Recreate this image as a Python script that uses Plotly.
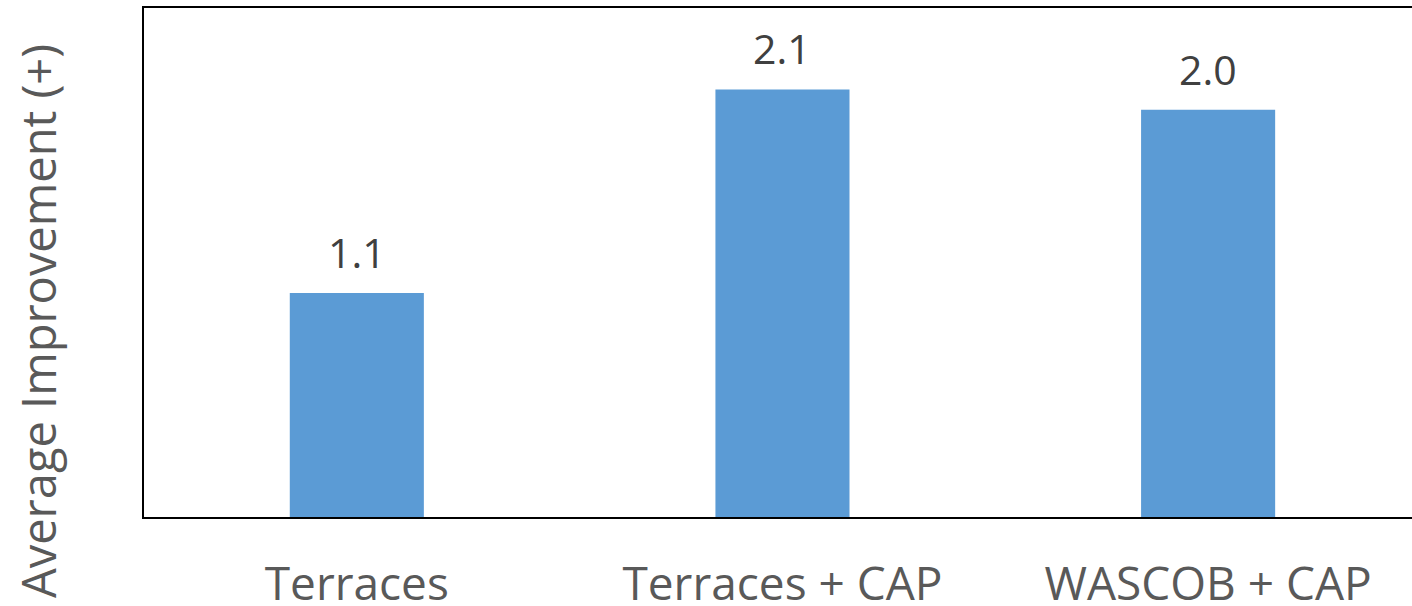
import plotly.graph_objects as go

# Average improvement per practice
categories = ["Terraces", "Terraces + CAP", "WASCOB + CAP"]
improvement = [1.1, 2.1, 2.0]
value_labels = ["1.1", "2.1", "2.0"]

bar_color = "#5B9BD5"
font_family = "'Open Sans', 'Noto Sans', sans-serif"

fig = go.Figure()
fig.add_trace(go.Bar(
    x=categories,
    y=improvement,
    width=0.315,
    marker=dict(color=bar_color, line=dict(width=0)),
    hoverinfo="x+y",
))

# value labels above each bar
for cat, val, lab in zip(categories, improvement, value_labels):
    fig.add_annotation(
        x=cat, y=val, xref="x", yref="y",
        text=lab, showarrow=False,
        yanchor="bottom", yshift=11,
        font=dict(family=font_family, size=41, color="#404040"),
    )

# rotated y-axis caption
fig.add_annotation(
    x=-0.0836, y=0.385, xref="paper", yref="paper",
    text="Average Improvement (+)", textangle=-90, showarrow=False,
    xanchor="center", yanchor="middle",
    font=dict(family=font_family, size=47, color="#595959"),
)

fig.update_layout(
    width=1412, height=606,
    margin=dict(l=144, r=0, t=8, b=89, autoexpand=False),
    paper_bgcolor="white", plot_bgcolor="white",
    showlegend=False,
    font=dict(family=font_family, color="#595959"),
)
fig.update_xaxes(
    type="category",
    range=[-0.5, 2.479],
    automargin=False,
    showline=True, linecolor="#000000", linewidth=2, mirror=True,
    showgrid=False, ticks="",
    ticklabelstandoff=26,
    tickfont=dict(family=font_family, size=46, color="#595959"),
)
fig.update_yaxes(
    range=[0, 2.5],
    automargin=False,
    showline=True, linecolor="#000000", linewidth=2,
    showgrid=False, zeroline=False, showticklabels=False, ticks="",
)

fig.write_html("out.html")
